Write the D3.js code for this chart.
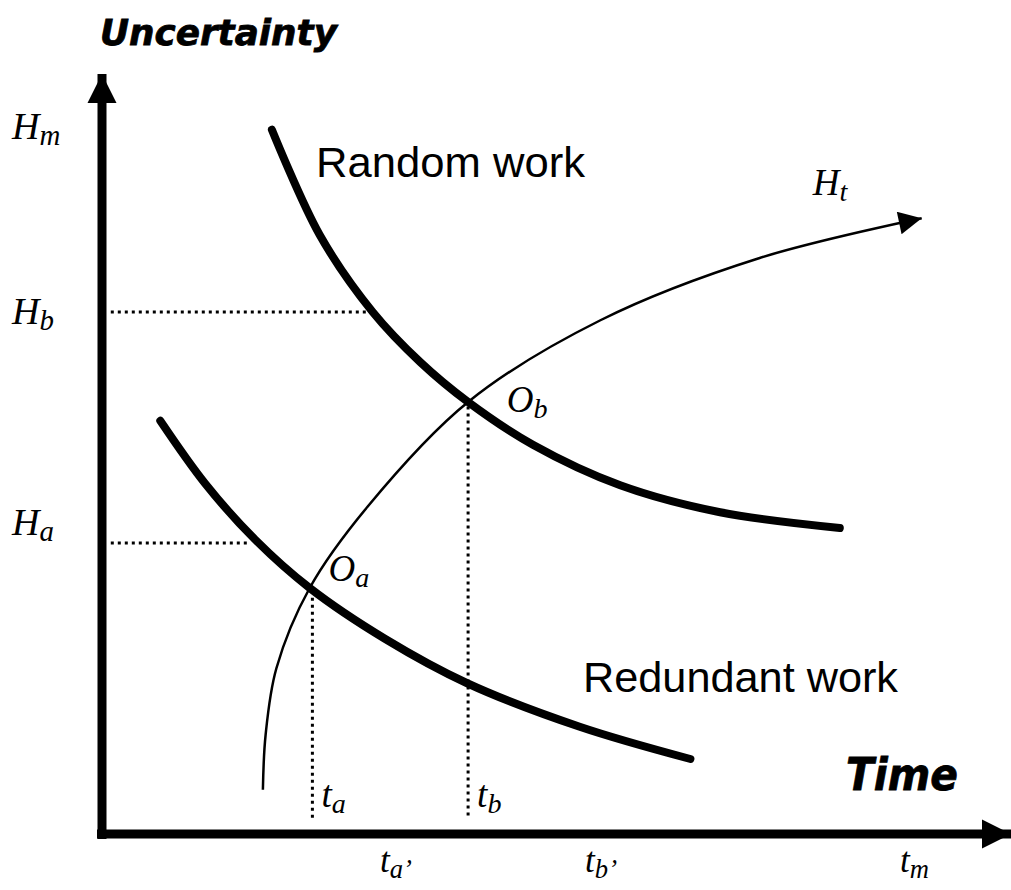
<!DOCTYPE html>
<html>
<head>
<meta charset="utf-8">
<script src="https://cdn.jsdelivr.net/npm/d3@7"></script>
<style>
  html, body { margin: 0; padding: 0; background: #fff; }
  svg { display: block; }
  .math { font-family: "Liberation Serif", "Times New Roman", serif; font-style: italic; }
  .head { font-family: "DejaVu Sans", sans-serif; font-weight: bold; font-style: italic; }
  .curve-label { font-family: "Liberation Sans", Arial, sans-serif; }
</style>
</head>
<body>
<svg id="chart" width="1011" height="890"></svg>
<script>
// curve values (time 0-100, uncertainty 0-100)
const randomT = [19.1, 24.4, 30.3, 35.6, 40.9, 48.1, 57.8, 68.9, 82.2];
const randomH = [93.9, 79.9, 69.6, 62.9, 57.6, 51.9, 46.5, 42.9, 40.8];

const redundantT = [6.7, 11.7, 17.2, 23.3, 31.7, 40.8, 53.3, 65.6];
const redundantH = [55.1, 46.7, 39.3, 32.8, 26.0, 20.1, 14.3, 10.0];

const htT = [18.1, 18.4, 19.6, 23.3, 29.7, 40.9, 55.6, 73.3, 91.3];
const htH = [5.9, 13.2, 22.1, 32.8, 43.6, 57.6, 68.5, 76.8, 82.1];

// dotted guides: level, and where they stop on the curve
const hGuides = [
  { h: 69.6, t0: 1.2, t1: 29.8 },
  { h: 38.8, t0: 1.2, t1: 16.7 }
];
const tGuides = [
  { t: 23.6, h0: 31.5, h1: 2.0 },
  { t: 40.9, h0: 57.0, h1: 2.0 }
];

// tick labels
const yTicks = [
  { h: 94.3, base: 'H', sub: 'm' },
  { h: 69.6, base: 'H', sub: 'b' },
  { h: 41.5, base: 'H', sub: 'a' }
];
const xTicks = [
  { t: 31.1, base: 't', sub: 'a’' },
  { t: 53.9, base: 't', sub: 'b’' },
  { t: 88.9, base: 't', sub: 'm' }
];
const pointLabels = [
  { t: 25.4, h: 33.7, base: 'O', sub: 'a' },
  { t: 45.2, h: 56.3, base: 'O', sub: 'b' },
  { t: 79.2, h: 85.2, base: 'H', sub: 't' },
  { t: 24.6, h: 3.6, base: 't', sub: 'a' },
  { t: 41.9, h: 3.6, base: 't', sub: 'b' }
];

const svg = d3.select('#chart');

const x = d3.scaleLinear().domain([0, 100]).range([100, 1000]);
const y = d3.scaleLinear().domain([0, 100]).range([834, 84]);

const defs = svg.append('defs');
defs.append('marker')
  .attr('id', 'arrow-big')
  .attr('viewBox', '0 0 10 10')
  .attr('refX', 10).attr('refY', 5)
  .attr('markerUnits', 'userSpaceOnUse')
  .attr('markerWidth', 29).attr('markerHeight', 30)
  .attr('orient', 'auto')
  .append('path').attr('d', 'M0,0L10,5L0,10Z').attr('fill', '#000');
defs.append('marker')
  .attr('id', 'arrow-small')
  .attr('viewBox', '0 0 10 10')
  .attr('refX', 10).attr('refY', 5)
  .attr('markerUnits', 'userSpaceOnUse')
  .attr('markerWidth', 25).attr('markerHeight', 23)
  .attr('orient', 'auto')
  .append('path').attr('d', 'M0,0L10,5L0,10Z').attr('fill', '#000');

// axes
svg.append('line')
  .attr('x1', x(0) + 2).attr('y1', y(0) + 5)
  .attr('x2', x(0) + 2).attr('y2', 74)
  .attr('stroke', '#000').attr('stroke-width', 9)
  .attr('marker-end', 'url(#arrow-big)');
svg.append('line')
  .attr('x1', x(0) - 3).attr('y1', y(0))
  .attr('x2', 1011).attr('y2', y(0))
  .attr('stroke', '#000').attr('stroke-width', 9)
  .attr('marker-end', 'url(#arrow-big)');

// dotted guides
svg.selectAll('.hguide').data(hGuides).join('line')
  .attr('class', 'hguide')
  .attr('x1', d => x(d.t0)).attr('x2', d => x(d.t1))
  .attr('y1', d => y(d.h)).attr('y2', d => y(d.h))
  .attr('stroke', '#000').attr('stroke-width', 3)
  .attr('stroke-dasharray', '3,4');
svg.selectAll('.tguide').data(tGuides).join('line')
  .attr('class', 'tguide')
  .attr('x1', d => x(d.t)).attr('x2', d => x(d.t))
  .attr('y1', d => y(d.h0)).attr('y2', d => y(d.h1))
  .attr('stroke', '#000').attr('stroke-width', 3)
  .attr('stroke-dasharray', '3,4');

const line = d3.line()
  .x(d => x(d[0]))
  .y(d => y(d[1]))
  .curve(d3.curveCatmullRom.alpha(0.5));

svg.append('path')
  .attr('d', line(d3.zip(htT, htH)))
  .attr('fill', 'none').attr('stroke', '#000').attr('stroke-width', 2.5)
  .attr('marker-end', 'url(#arrow-small)');

svg.append('path')
  .attr('d', line(d3.zip(randomT, randomH)))
  .attr('fill', 'none').attr('stroke', '#000').attr('stroke-width', 8)
  .attr('stroke-linecap', 'round');

svg.append('path')
  .attr('d', line(d3.zip(redundantT, redundantH)))
  .attr('fill', 'none').attr('stroke', '#000').attr('stroke-width', 8)
  .attr('stroke-linecap', 'round');

// math style labels with subscripts
function mathLabel(g, base, sub, size) {
  g.append('tspan').text(base);
  g.append('tspan')
    .attr('font-size', size * 0.76)
    .attr('dy', size * 0.16)
    .text(sub);
}

yTicks.forEach(d => {
  const g = svg.append('text')
    .attr('class', 'math')
    .attr('x', 12).attr('y', y(d.h) + 12)
    .attr('font-size', 38);
  mathLabel(g, d.base, d.sub, 38);
});

xTicks.forEach(d => {
  const g = svg.append('text')
    .attr('class', 'math')
    .attr('x', x(d.t)).attr('y', 872)
    .attr('font-size', 35);
  mathLabel(g, d.base, d.sub, 35);
});

pointLabels.forEach(d => {
  const g = svg.append('text')
    .attr('class', 'math')
    .attr('x', x(d.t)).attr('y', y(d.h))
    .attr('font-size', 37);
  mathLabel(g, d.base, d.sub, 37);
});

// titles and curve names
svg.append('text')
  .attr('class', 'head')
  .attr('x', 100).attr('y', 45)
  .attr('font-size', 36)
  .attr('stroke', '#000').attr('stroke-width', 0.8)
  .attr('textLength', 237).attr('lengthAdjust', 'spacingAndGlyphs')
  .text('Uncertainty');
svg.append('text')
  .attr('class', 'head')
  .attr('x', 846).attr('y', 790)
  .attr('font-size', 45)
  .attr('stroke', '#000').attr('stroke-width', 0.8)
  .attr('textLength', 112).attr('lengthAdjust', 'spacingAndGlyphs')
  .text('Time');

svg.append('text')
  .attr('class', 'curve-label')
  .attr('x', 316).attr('y', 177)
  .attr('font-size', 42)
  .attr('textLength', 269).attr('lengthAdjust', 'spacingAndGlyphs')
  .text('Random work');
svg.append('text')
  .attr('class', 'curve-label')
  .attr('x', 583).attr('y', 692)
  .attr('font-size', 42)
  .attr('textLength', 315).attr('lengthAdjust', 'spacingAndGlyphs')
  .text('Redundant work');
</script>
</body>
</html>
